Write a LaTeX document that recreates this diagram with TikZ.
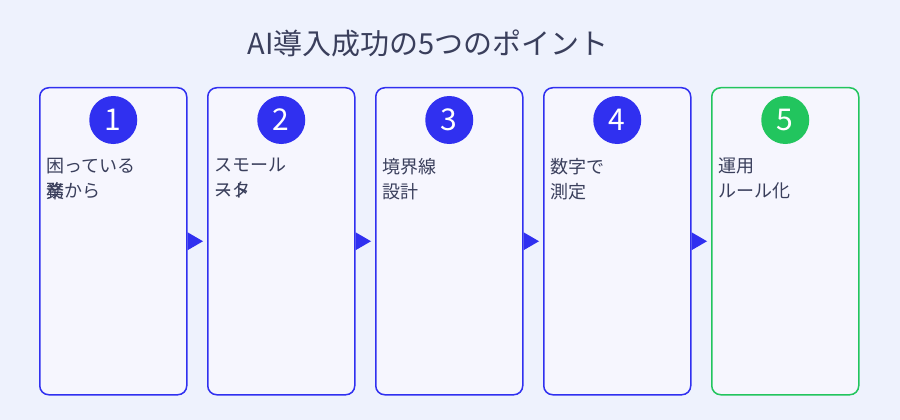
\documentclass[tikz,border=0pt]{standalone}
\usepackage{fontspec}
\setmainfont{Noto Sans CJK JP}
\newfontfamily\lightfont{Noto Sans CJK JP Light}
\usetikzlibrary{positioning}
\definecolor{bgc}{HTML}{EEF2FD}
\definecolor{boxc}{HTML}{F6F6FE}
\definecolor{blu}{HTML}{3030F0}
\definecolor{grn}{HTML}{22C55E}
\definecolor{txt}{HTML}{3A3F5C}
\tikzset{
  card/.style={draw=#1,fill=boxc,line width=1.5pt,rounded corners=9pt,minimum width=147pt,minimum height=307pt,anchor=north west},
  num/.style={circle,fill=#1,minimum size=48pt,inner sep=0pt,text=white,font=\fontsize{30}{30}\selectfont},
  lbl/.style={anchor=north west,align=left,text=txt,inner sep=0pt,font=\fontsize{18}{25}\selectfont},
  tip/.style={fill=blu,draw=none}
}
\begin{document}
\begin{tikzpicture}[x=1pt,y=-1pt]

% Background.
\fill[bgc] (0,0) rectangle (900,420);

% Title.
\node[text=txt,font=\fontsize{29}{29}\selectfont] (title) at (428,43) {AI導入成功の5つのポイント};

% Cards.
\node[card=blu] (c1) at (39,87) {};
\node[card=blu] (c2) at (207,87) {};
\node[card=blu] (c3) at (375,87) {};
\node[card=blu] (c4) at (543,87) {};
\node[card=grn] (c5) at (711,87) {};

% Numbers.
\foreach \i in {1,...,4}
  \node[num=blu] (n\i) at ([yshift=-33pt]c\i.north) {\i};
\node[num=grn] (n5) at ([yshift=-33pt]c5.north) {5};

% Labels.
\node[lbl] (t1) at (46,158) {困っている\\務から};
\node[lbl] (t1b) at (46,183) {業};
\node[lbl] (t2) at (214,158) {スモール\\スタ};
\node[lbl] (t2b) at (214,183) {ート};
\node[lbl] (t3) at (382,158) {境界線\\設計};
\node[lbl] (t4) at (550,158) {数字で\\測定};
\node[lbl] (t5) at (718,158) {運用\\ルール化};

% Arrow tips.
\foreach \a/\b in {c1/c2,c2/c3,c3/c4,c4/c5}
  \fill[tip] ([yshift=9pt]\a.east) -- ([yshift=-9pt]\a.east) -- ([xshift=-4pt]\b.west) -- cycle;

\end{tikzpicture}
\end{document}
